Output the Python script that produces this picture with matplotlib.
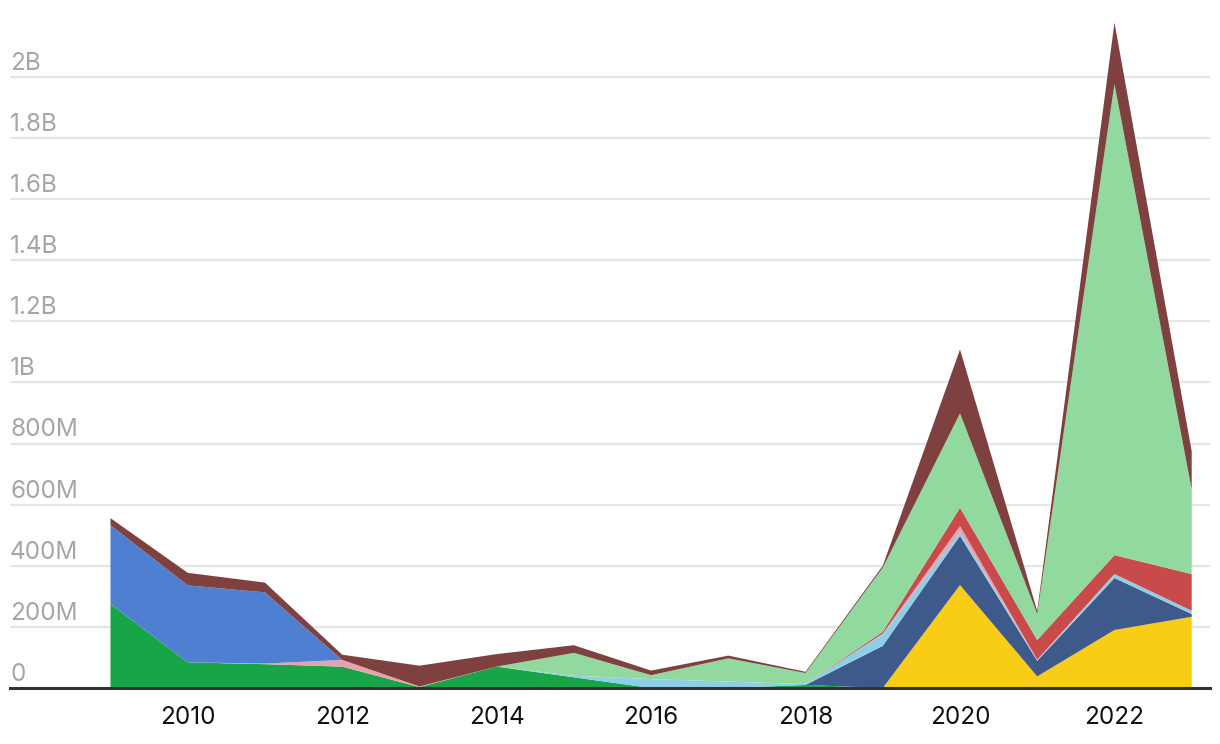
import matplotlib
matplotlib.use("Agg")
import matplotlib.pyplot as plt
import numpy as np

years = list(range(2009, 2024))

# values in millions
green      = [275, 84, 78, 70, 3, 70, 35, 0, 0, 10, 0, 0, 0, 0, 0]
yellow     = [0, 0, 0, 0, 0, 0, 0, 0, 0, 0, 0, 337, 38, 190, 233]
navy       = [0, 0, 0, 0, 0, 0, 0, 0, 0, 0, 138, 161, 51, 170, 9]
lightblue  = [0, 0, 0, 0, 0, 0, 5, 29, 21, 3, 38, 13, 2, 12, 11]
pink       = [0, 0, 2, 22, 2, 0, 0, 0, 0, 0, 2, 19, 2, 1, 0]
red        = [0, 0, 0, 0, 0, 0, 0, 0, 0, 0, 6, 60, 64, 62, 120]
blue       = [258, 252, 233, 0, 0, 0, 0, 0, 0, 0, 0, 0, 0, 0, 0]
lightgreen = [0, 0, 0, 0, 0, 0, 75, 13, 76, 36, 210, 309, 85, 1542, 277]
brown      = [23, 41, 32, 17, 68, 41, 25, 15, 9, 4, 6, 209, 10, 201, 125]

series = [green, yellow, navy, lightblue, pink, red, blue, lightgreen, brown]
colors = ["#18a548", "#f9cc16", "#3e5a8a", "#8ecfe8", "#e8a1b0",
          "#c84a4a", "#4f7fd1", "#92d9a0", "#7f4040"]

yticks = [0, 200, 400, 600, 800, 1000, 1200, 1400, 1600, 1800, 2000]
ytick_labels = ["0", "200M", "400M", "600M", "800M", "1B", "1.2B", "1.4B", "1.6B", "1.8B", "2B"]
xticks = [2010, 2012, 2014, 2016, 2018, 2020, 2022]

plt.rcParams['font.family'] = ['Inter', 'DejaVu Sans']

W, H = 1220, 744
fig = plt.figure(figsize=(W / 100, H / 100), dpi=100)
left_px, right_px, top_px, bottom_px = 10, 1210, 10, 688
ax = fig.add_axes([left_px / W, 1 - bottom_px / H, (right_px - left_px) / W, (bottom_px - top_px) / H])

ax.stackplot(years, *[np.array(s) * 1e6 for s in series], colors=colors, linewidth=0)

px_per_year = (1191.7 - 110.5) / 14
xmin = 2009 - (110.5 - left_px) / px_per_year
xmax = 2023 + (right_px - 1191.7) / px_per_year
ax.set_xlim(xmin, xmax)
px_per_m = 61.1 / 200
ax.set_ylim(0, (bottom_px - top_px) / px_per_m * 1e6)

for s in ax.spines.values():
    s.set_visible(False)
ax.axhline(0, color="#333333", linewidth=2.2, zorder=5, clip_on=False)

for v in yticks[1:]:
    ax.axhline(v * 1e6, color="#e6e6e6", linewidth=1.6, zorder=0)

ax.set_yticks([])
for v, lab in zip(yticks, ytick_labels):
    ax.annotate(lab, xy=(0, v * 1e6), xycoords=('axes fraction', 'data'),
                xytext=(0, 7.2), textcoords='offset pixels',
                ha='left', va='baseline', fontsize=17.5, color="#a6a6a6")

ax.set_xticks(xticks)
ax.set_xticklabels([str(x) for x in xticks], fontsize=17.5, color="#111111")
ax.tick_params(axis='x', length=0, pad=13)

fig.savefig("out.png", dpi=100)
